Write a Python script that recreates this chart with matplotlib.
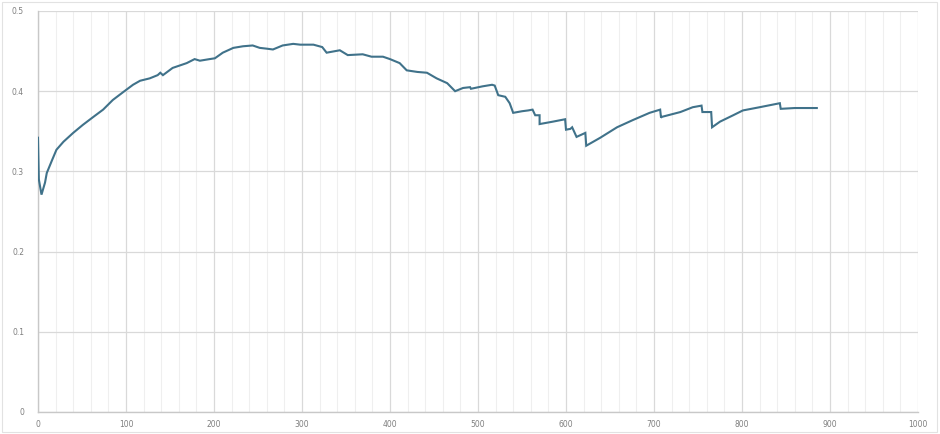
import matplotlib.pyplot as plt
from matplotlib.patches import Rectangle
from matplotlib.ticker import MultipleLocator

# running ratio by step count (vertical jumps repeat the x value)
steps = [0, 1, 4, 8, 10, 16, 21, 29, 40, 51, 63, 74, 85, 97, 108, 116,
         127, 136, 139, 142, 153, 169, 178, 184, 195, 201, 210, 222, 233,
         244, 252, 260, 267, 278, 290, 298, 313, 323, 328, 343, 352, 369,
         379, 392, 400, 411, 419, 431, 442, 453, 465, 474, 483, 491, 492,
         505, 516, 519, 523, 531, 536, 540, 550, 557, 562, 565, 570, 570,
         585, 599, 600, 605, 607, 612, 622, 623, 639, 658, 676, 695, 707,
         708, 709, 730, 744, 754, 755, 765, 766, 775, 790, 801, 820, 843,
         844, 860, 885]
ratio = [0.342, 0.290, 0.271, 0.286, 0.298, 0.314, 0.327, 0.337, 0.348,
         0.358, 0.368, 0.377, 0.389, 0.399, 0.408, 0.413, 0.416, 0.420,
         0.423, 0.420, 0.429, 0.435, 0.440, 0.438, 0.440, 0.441, 0.448,
         0.454, 0.456, 0.457, 0.454, 0.453, 0.452, 0.457, 0.459, 0.458,
         0.458, 0.455, 0.448, 0.451, 0.445, 0.446, 0.443, 0.443, 0.440,
         0.435, 0.426, 0.424, 0.423, 0.416, 0.410, 0.400, 0.404, 0.405,
         0.403, 0.406, 0.408, 0.407, 0.395, 0.393, 0.385, 0.373, 0.375,
         0.376, 0.377, 0.370, 0.370, 0.359, 0.362, 0.365, 0.352, 0.353,
         0.355, 0.343, 0.348, 0.332, 0.342, 0.355, 0.364, 0.373, 0.377,
         0.367, 0.368, 0.374, 0.380, 0.382, 0.374, 0.374, 0.355, 0.362,
         0.370, 0.376, 0.380, 0.385, 0.378, 0.379, 0.379]

x_ticks = [0, 100, 200, 300, 400, 500, 600, 700, 800, 900, 1000]
y_ticks = [0, 0.1, 0.2, 0.3, 0.4, 0.5]

LINE = "#40728a"
MAJOR = "#d9d9d9"
MINOR = "#efefef"
LABEL = "#7f7f7f"

fig = plt.figure(figsize=(9.4, 4.34), dpi=100)
fig.patch.set_facecolor("white")
ax = fig.add_axes([0.0404, 0.0507, 0.9362, 0.924])

ax.plot(steps, ratio, color=LINE, lw=1.5, solid_joinstyle="miter", zorder=3)

ax.set_xlim(0, 1000)
ax.set_ylim(0, 0.5)
ax.set_xticks(x_ticks)
ax.set_yticks(y_ticks)
ax.set_xticklabels([str(v) for v in x_ticks])
ax.set_yticklabels(["0", "0.1", "0.2", "0.3", "0.4", "0.5"])
ax.xaxis.set_minor_locator(MultipleLocator(20))

ax.grid(which="major", axis="both", color=MAJOR, lw=0.9)
ax.grid(which="minor", axis="x", color=MINOR, lw=0.8)
ax.set_axisbelow(True)

ax.tick_params(which="both", length=0, labelsize=5.5, labelcolor=LABEL)
ax.tick_params(axis="x", pad=6)
ax.tick_params(axis="y", pad=10)

for side in ["top", "right"]:
    ax.spines[side].set_visible(False)
for side in ["left", "bottom"]:
    ax.spines[side].set_color("#c8c8c8")
    ax.spines[side].set_linewidth(1.0)

# thin frame round the chart area
fig.patches.append(Rectangle((0.002, 0.004), 0.995, 0.992, transform=fig.transFigure,
                             fill=False, edgecolor="#e2e2e2", lw=0.8))

fig.savefig("out.png", dpi=100)
